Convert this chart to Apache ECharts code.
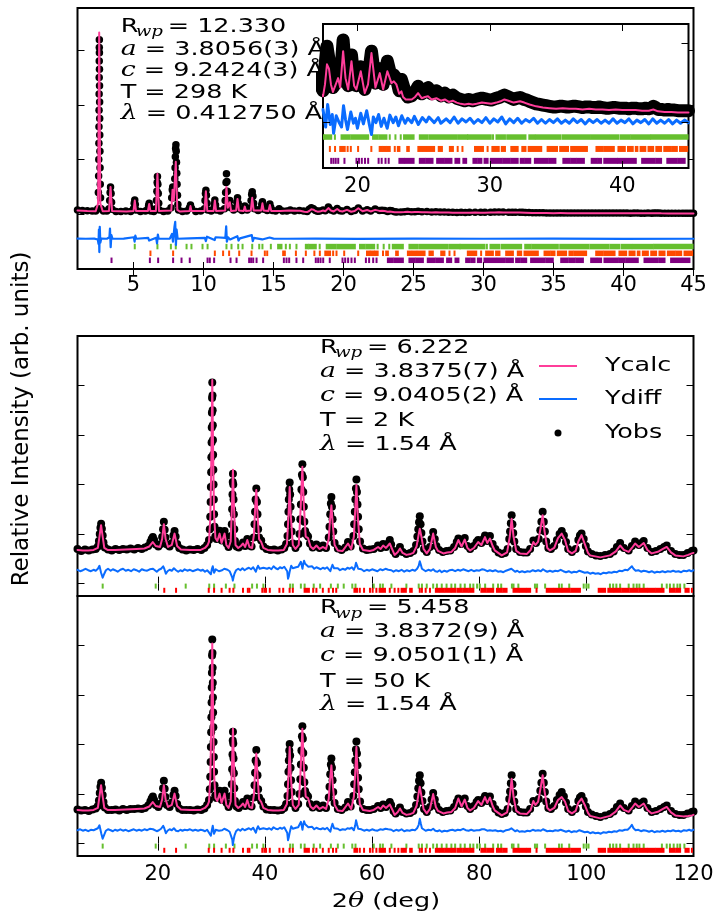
<!DOCTYPE html>
<html>
<head>
<meta charset="utf-8">
<script src="https://cdn.jsdelivr.net/npm/echarts@6/dist/echarts.min.js"></script>
<style>
html,body{margin:0;padding:0;background:#fff}
#chart{width:718px;height:915px}
</style>
</head>
<body>
<div id="chart"></div>
<script>
// ---------- tick positions ----------
const topXTicks = [5, 10, 15, 20, 25, 30, 35, 40, 45];
const topYTicks = [1, 2, 3, 4];
const insetXTicks = [20, 30, 40];
const insetYTicks = [1.0, 1.125];
const labXTicks = [20, 40, 60, 80, 100, 120];
const labYTicks = [0, 1, 2, 3, 4, 5];

// ---------- synchrotron pattern, 298 K ----------
const obs298K = [
  [1.0,1.08],[1.35,1.07],[1.7,1.065],[2.05,1.06],[2.3,1.06],
  [2.45,1.10],[2.49,1.40],[2.51,1.70],[2.52,2.00],[2.53,2.30],[2.535,2.60],[2.54,2.90],[2.545,3.20],[2.55,3.50],[2.553,3.80],[2.556,4.05],[2.56,4.19],
  [2.565,3.95],[2.57,3.65],[2.575,3.35],[2.58,3.05],[2.585,2.75],[2.59,2.45],[2.60,2.15],[2.61,1.85],[2.625,1.55],[2.645,1.30],[2.68,1.10],
  [2.85,1.06],[3.1,1.06],
  [3.25,1.10],[3.30,1.25],[3.33,1.40],[3.36,1.50],[3.40,1.38],[3.43,1.22],[3.47,1.09],
  [3.75,1.05],[4.1,1.05],[4.45,1.06],[4.8,1.05],
  [5.0,1.10],[5.05,1.20],[5.09,1.26],[5.13,1.18],[5.18,1.08],
  [5.5,1.05],[5.85,1.06],
  [6.02,1.09],[6.08,1.16],[6.12,1.20],[6.17,1.12],[6.23,1.06],
  [6.45,1.05],
  [6.60,1.10],[6.64,1.25],[6.67,1.42],[6.69,1.58],[6.71,1.69],[6.74,1.55],[6.77,1.38],[6.80,1.20],[6.85,1.08],
  [7.15,1.05],[7.45,1.06],
  [7.68,1.12],[7.73,1.30],[7.77,1.45],[7.80,1.50],[7.84,1.40],[7.88,1.30],[7.92,1.45],[7.95,1.65],[7.97,1.85],[7.99,2.05],[8.01,2.20],[8.03,2.27],
  [8.05,2.15],[8.07,1.95],[8.09,1.75],[8.11,1.55],[8.14,1.35],[8.17,1.18],[8.22,1.08],
  [8.5,1.05],[8.8,1.06],
  [9.0,1.12],[9.07,1.17],[9.14,1.11],
  [9.45,1.05],[9.8,1.06],
  [10.07,1.10],[10.11,1.25],[10.14,1.38],[10.17,1.44],[10.21,1.35],[10.25,1.20],[10.30,1.08],
  [10.55,1.06],[10.72,1.10],[10.77,1.19],[10.81,1.26],[10.86,1.17],[10.92,1.08],
  [11.2,1.06],
  [11.50,1.10],[11.55,1.25],[11.58,1.40],[11.61,1.58],[11.64,1.74],[11.67,1.60],[11.70,1.42],[11.74,1.25],[11.80,1.18],[11.88,1.25],[11.95,1.12],
  [12.15,1.08],[12.33,1.12],[12.38,1.22],[12.43,1.30],[12.48,1.20],[12.54,1.10],
  [12.75,1.07],[12.95,1.15],[13.12,1.08],
  [13.35,1.12],[13.40,1.25],[13.44,1.36],[13.48,1.41],[13.53,1.33],[13.58,1.20],[13.65,1.10],
  [13.9,1.07],
  [14.10,1.10],[14.16,1.18],[14.21,1.23],[14.27,1.16],[14.35,1.09],
  [14.55,1.07],[14.68,1.13],[14.74,1.19],[14.80,1.13],[14.92,1.07],
  [15.15,1.06],[15.40,1.10],[15.65,1.06],
  [15.95,1.06],[16.2,1.08],[16.5,1.06],[16.85,1.07],[17.15,1.06],
  [17.40,1.050],[17.55,1.090],[17.70,1.121],[17.85,1.100],[18.00,1.070],[18.15,1.055],[18.30,1.060],[18.54,1.080],[18.70,1.065],
  [18.92,1.131],[19.10,1.080],[19.30,1.058],[19.55,1.107],[19.75,1.065],[19.92,1.058],[20.25,1.088],[20.55,1.052],[20.80,1.070],
  [21.06,1.113],[21.36,1.062],[21.69,1.085],[21.94,1.060],[22.26,1.097],[22.57,1.070],[22.75,1.075],[22.94,1.070],[23.15,1.050],
  [23.32,1.068],[23.45,1.066],[23.65,1.045],[23.80,1.040],[24.10,1.042],[24.35,1.048],[24.58,1.057],[24.85,1.045],[25.10,1.048],
  [25.33,1.055],[25.60,1.045],[25.96,1.050],[26.30,1.042],[26.60,1.046],[26.90,1.040],[27.20,1.043],[27.50,1.038],[27.80,1.036],
  [28.10,1.034],[28.40,1.036],[28.70,1.034],[29.00,1.036],[29.40,1.038],[29.80,1.036],[30.10,1.035],[30.50,1.038],[30.80,1.040],
  [31.10,1.043],[31.40,1.040],[31.80,1.036],[32.05,1.038],[32.28,1.039],[32.60,1.036],[32.80,1.035],[33.00,1.033],[33.25,1.031],
  [33.50,1.029],[33.75,1.028],[34.00,1.027],[34.25,1.026],[34.50,1.025],[34.75,1.024],[35.00,1.024],[35.25,1.025],[35.50,1.025],
  [35.75,1.024],[36.00,1.024],[36.25,1.025],[36.50,1.025],[36.75,1.024],[37.00,1.023],[37.25,1.024],[37.50,1.024],[37.75,1.023],
  [38.00,1.023],[38.25,1.024],[38.50,1.023],[38.75,1.022],[39.00,1.022],[39.25,1.023],[39.50,1.023],[39.75,1.022],[40.00,1.022],
  [40.25,1.022],[40.50,1.021],[40.75,1.022],[41.00,1.022],[41.25,1.021],[41.50,1.021],[41.75,1.022],[42.00,1.021],[42.17,1.022],
  [42.34,1.025],[42.52,1.023],[42.70,1.020],[42.95,1.020],[43.20,1.019],[43.45,1.020],[43.70,1.019],[43.95,1.019],[44.20,1.018],
  [44.40,1.018],[44.60,1.018],[44.80,1.018],[45.00,1.018]
];
const calc298K = [
  [1.0,1.07],[1.7,1.06],[2.3,1.055],[2.47,1.2],[2.55,4.32],[2.63,1.2],[2.8,1.055],[3.25,1.06],[3.36,1.50],[3.47,1.06],
  [4.5,1.05],[5.0,1.06],[5.09,1.25],[5.18,1.06],[6.03,1.06],[6.12,1.19],[6.21,1.06],[6.6,1.06],[6.71,1.74],[6.82,1.06],
  [7.70,1.07],[7.79,1.45],[7.88,1.25],[8.02,1.96],[8.13,1.08],[8.3,1.05],[9.0,1.06],[9.07,1.15],[9.14,1.06],
  [10.07,1.06],[10.17,1.42],[10.27,1.06],[10.72,1.06],[10.81,1.25],[10.90,1.06],[11.55,1.07],[11.64,1.50],[11.74,1.12],
  [11.88,1.22],[11.97,1.06],[12.33,1.07],[12.43,1.28],[12.53,1.07],[12.87,1.06],[12.95,1.14],[13.03,1.06],[13.38,1.07],
  [13.48,1.30],[13.58,1.07],[14.12,1.07],[14.21,1.20],[14.30,1.07],[14.64,1.06],[14.74,1.17],[14.84,1.06],[15.3,1.06],
  [15.40,1.09],[15.5,1.06],[16.1,1.07],[16.9,1.065],[17.2,1.045],
  [17.40,1.041],[17.55,1.060],[17.70,1.092],[17.85,1.085],[18.00,1.060],[18.15,1.048],[18.30,1.049],[18.54,1.070],[18.70,1.055],
  [18.92,1.113],[19.10,1.070],[19.30,1.052],[19.55,1.097],[19.75,1.058],[19.92,1.052],[20.25,1.081],[20.55,1.046],[20.80,1.060],
  [21.06,1.110],[21.36,1.055],[21.69,1.078],[21.94,1.052],[22.26,1.081],[22.57,1.062],[22.75,1.065],[22.94,1.060],[23.15,1.045],
  [23.32,1.049],[23.45,1.040],[23.65,1.036],[23.80,1.035],[24.10,1.036],[24.35,1.040],[24.58,1.046],[24.85,1.038],[25.10,1.040],
  [25.33,1.041],[25.60,1.036],[25.96,1.038],[26.30,1.034],[26.60,1.036],[26.90,1.032],[27.20,1.034],[27.50,1.031],[27.80,1.029],
  [28.10,1.028],[28.40,1.029],[28.70,1.028],[29.00,1.029],[29.40,1.031],[29.80,1.030],[30.10,1.029],[30.50,1.031],[30.80,1.033],
  [31.10,1.036],[31.40,1.034],[31.80,1.031],[32.28,1.033],[32.60,1.031],[33.00,1.028],[33.50,1.025],[34.00,1.023],[34.50,1.022],
  [35.00,1.021],[35.50,1.022],[36.00,1.021],[36.50,1.021],[37.00,1.020],[37.50,1.021],[38.00,1.020],[38.50,1.020],[39.00,1.019],
  [39.50,1.020],[40.00,1.019],[40.50,1.019],[41.00,1.019],[41.50,1.018],[42.00,1.018],[42.34,1.020],[42.70,1.017],[43.20,1.016],
  [43.70,1.016],[44.20,1.015],[44.60,1.015],[45.00,1.015]
];
const diff298K = [
  [1.0,0.556],[1.6,0.553],[2.2,0.555],[2.45,0.54],[2.5,0.46],[2.53,0.72],[2.56,0.31],[2.59,0.77],[2.63,0.48],[2.7,0.556],
  [3.1,0.553],[3.28,0.58],[3.32,0.74],[3.37,0.40],[3.42,0.62],[3.5,0.553],[4.3,0.555],[5.02,0.58],[5.08,0.50],[5.13,0.61],
  [5.2,0.553],[6.05,0.57],[6.12,0.52],[6.2,0.553],[6.62,0.57],[6.68,0.47],[6.74,0.63],[6.8,0.553],[7.6,0.556],[7.75,0.64],
  [7.82,0.50],[7.93,0.78],[7.98,0.86],[8.03,0.44],[8.08,0.72],[8.15,0.553],[9.0,0.56],[9.1,0.54],[10.1,0.57],[10.17,0.51],
  [10.25,0.59],[10.8,0.53],[10.86,0.58],[11.56,0.57],[11.62,0.78],[11.67,0.50],[11.75,0.58],[11.9,0.54],[12.42,0.60],
  [12.5,0.52],[12.6,0.56],[13.45,0.62],[13.52,0.51],[13.6,0.57],[14.2,0.54],[14.3,0.57],[14.72,0.575],[14.8,0.54],
  [15.0,0.555],[16.0,0.553],[18.0,0.556],[21.0,0.552],[25,0.554],[30,0.553],[35,0.554],[40,0.552],[45,0.553]
];
// difference curve as plotted in the zoomed inset
const diff298KInset = [
  [17.4,1.020],[17.6,0.992],[17.75,1.028],[17.95,0.996],[18.1,1.012],[18.2,0.982],[18.4,1.010],[18.6,1.000],[18.8,0.992],
  [18.95,1.026],[19.1,1.004],[19.25,0.988],[19.5,1.016],[19.7,0.998],[19.85,1.006],[20.0,0.990],[20.25,1.014],[20.45,0.997],
  [20.7,1.018],[20.9,0.996],[21.06,0.980],[21.2,1.008],[21.4,0.999],[21.6,1.012],[21.8,0.993],[22.0,1.006],[22.25,0.990],
  [22.45,1.011],[22.7,0.999],[22.9,1.008],[23.1,0.994],[23.35,1.010],[23.6,0.998],[23.8,1.006],[24.1,0.999],[24.3,1.009],
  [24.6,0.996],[24.9,1.007],[25.2,1.000],[25.4,1.008],[25.8,0.999],[26.1,1.007],[26.3,0.998],[26.7,1.005],[27.0,0.999],
  [27.3,1.008],[27.6,0.998],[27.9,1.005],[28.2,1.000],[28.5,1.006],[28.8,0.998],[29.1,1.004],[29.4,0.999],[29.7,1.007],
  [30.0,0.998],[30.3,1.005],[30.6,1.000],[30.9,1.008],[31.2,0.997],[31.5,1.005],[31.8,0.999],[32.1,1.006],[32.4,0.998],
  [32.7,1.004],[33.0,1.000],[33.3,1.006],[33.6,0.998],[33.9,1.004],[34.2,0.998],[34.5,1.004],[34.8,0.999],[35.1,1.005],
  [35.4,0.998],[35.7,1.003],[36.0,0.998],[36.3,1.005],[36.6,0.999],[36.9,1.004],[37.2,0.997],[37.5,1.004],[37.8,0.999],
  [38.1,1.004],[38.4,0.998],[38.7,1.003],[39.0,0.998],[39.3,1.005],[39.6,0.998],[39.9,1.003],[40.2,0.999],[40.5,1.005],
  [40.8,0.997],[41.1,1.003],[41.4,0.999],[41.7,1.004],[42.0,0.997],[42.3,1.005],[42.6,0.998],[42.9,1.003],[43.2,0.998],
  [43.5,1.004],[43.8,0.997],[44.1,1.003],[44.4,0.998],[44.7,1.003],[45.0,0.999]
];
// reflection markers (single positions or [from, to] runs of closely spaced reflections)
const hklGreen298K = [5.09,6.71,7.67,8.02,8.79,9.14,9.93,10.29,11.64,12.0,12.48,12.79,13.48,13.98,14.21,14.81,[15.33,15.57],15.88,16.17,16.64,
  [17.31,17.45],[17.55,18.02],18.3,[18.8,19.42],[19.55,20.81],[21.18,21.52],[21.65,22.19],22.44,22.87,23.27,[23.52,24.24],[24.71,25.31],
  [25.46,27.45],[27.6,28.29],[28.36,30.07],30.24,[30.5,31.14],[31.31,32.69],[32.98,33.36],[33.48,35.31],[35.48,37.5],[37.64,38.93],
  [39.07,39.71],[39.88,40.55],[40.67,42.1],[42.21,44.95]];
const hklOrange298K = [6.21,7.83,10.81,11.4,11.83,12.55,13.43,14.38,14.55,15.69,15.81,16.6,17.31,17.92,18.31,[18.7,19.04],19.26,19.5,20.05,
  21.05,[21.68,21.85],[21.95,22.15],[22.25,22.44],22.82,[23.05,23.17],[23.76,23.88],[24.6,24.83],[24.95,25.19],[25.31,25.79],[26.14,26.38],
  [26.98,27.21],27.57,27.93,[28.88,29.48],29.83,[30.19,30.67],[30.9,31.14],[31.62,32.1],[32.45,32.69],[32.93,33.88],[34.36,34.71],
  [34.83,35.07],[35.31,35.9],[36.14,36.38],[36.5,37.33],[38.05,38.52],[38.64,39.36],[39.71,40.19],[40.43,40.79],[41.02,41.14],
  [41.38,41.74],[41.98,42.33],[42.57,42.93],[43.17,43.64],[43.76,44.12],[44.36,44.9]];
const hklPurple298K = [3.43,6.17,6.76,7.83,8.43,9.02,10.29,10.45,10.76,11.93,12.36,13.26,13.4,13.55,13.79,14.26,15.74,15.93,16.12,16.64,
  17.12,18.02,18.19,18.36,18.55,19.02,19.93,20.12,20.33,20.57,20.81,21.6,21.83,22.12,22.36,[23.17,23.52],[23.64,24.24],[24.71,25.07],
  [25.19,25.67],[26.02,26.5],[26.62,27.1],[27.4,27.69],[28.0,28.21],[28.76,29.0],[29.12,29.36],[29.6,29.83],[30.07,30.9],[31.02,31.5],
  [31.62,32.1],[32.33,32.57],[32.69,33.05],[33.4,34.36],[34.48,34.95],[35.55,36.02],[36.14,36.5],[36.62,37.1],[37.69,38.05],
  [38.17,38.4],[38.64,39.6],[39.71,40.07],[40.19,41.02],[41.5,42.45],[42.57,42.93],[43.4,44.12],[44.24,44.71]];

// ---------- laboratory pattern, 2 K ----------
const obs2K = [
  [5.0,0.70],[5.7,0.66],[6.4,0.69],[7.1,0.67],[7.8,0.69],[8.4,0.70],
  [8.8,0.75],[9.0,0.86],[9.15,1.00],[9.28,1.13],[9.41,1.21],[9.55,1.11],[9.7,0.97],[9.85,0.83],[10.1,0.73],
  [10.7,0.69],[11.4,0.67],[12.1,0.70],[12.8,0.68],[13.5,0.70],[14.2,0.69],[14.9,0.71],[15.6,0.69],[16.3,0.72],[17.0,0.70],[17.6,0.73],[18.2,0.76],[18.6,0.84],
  [18.85,0.90],[19.07,0.94],[19.3,0.88],[19.6,0.79],[20.1,0.75],
  [20.55,0.80],[20.8,0.94],[20.97,1.10],[21.12,1.25],[21.27,1.09],[21.42,0.93],[21.7,0.79],[22.2,0.75],
  [22.65,0.82],[22.9,0.97],[23.12,1.06],[23.32,0.95],[23.6,0.80],[24.0,0.72],
  [24.6,0.69],[25.3,0.67],[26.0,0.69],[26.7,0.68],[27.4,0.70],[28.1,0.68],[28.7,0.72],[29.2,0.78],
  [29.55,0.88],[29.7,1.10],[29.78,1.35],[29.85,1.65],[29.9,1.95],[29.95,2.25],[29.99,2.55],[30.03,2.85],[30.06,3.15],[30.09,3.45],[30.12,3.75],[30.16,4.06],
  [30.2,3.80],[30.23,3.50],[30.26,3.20],[30.29,2.90],[30.32,2.60],[30.36,2.30],[30.4,2.00],[30.45,1.70],[30.5,1.40],[30.58,1.15],[30.72,0.95],
  [30.95,0.90],[31.2,0.93],[31.38,1.02],[31.53,1.07],[31.7,0.96],[31.95,0.87],[32.2,0.91],[32.35,1.00],[32.46,1.06],[32.62,0.95],[32.85,0.81],[33.2,0.74],[33.5,0.80],
  [33.7,0.96],[33.8,1.20],[33.87,1.50],[33.93,1.80],[33.98,2.05],[34.02,2.22],[34.08,2.00],[34.13,1.70],[34.19,1.40],[34.27,1.10],[34.4,0.86],
  [34.7,0.75],[35.1,0.73],[35.5,0.77],[35.9,0.83],[36.3,0.76],[36.7,0.90],[37.1,0.77],[37.5,0.75],
  [37.9,0.93],[38.05,1.20],[38.15,1.45],[38.25,1.70],[38.38,1.92],[38.5,1.65],[38.6,1.40],[38.72,1.10],[38.9,0.93],
  [39.3,0.87],[39.7,0.75],[40.3,0.70],[41.0,0.68],[41.7,0.69],[42.4,0.67],[43.1,0.69],[43.6,0.72],[43.95,0.80],
  [44.2,0.96],[44.3,1.20],[44.38,1.45],[44.45,1.70],[44.53,1.90],[44.61,2.04],[44.7,1.80],[44.78,1.55],[44.87,1.30],[44.97,1.05],[45.2,0.81],
  [45.7,0.72],[46.2,0.80],
  [46.45,1.00],[46.6,1.30],[46.7,1.60],[46.8,1.90],[46.9,2.20],[46.98,2.41],[47.07,2.15],[47.15,1.85],[47.25,1.55],[47.35,1.25],[47.5,1.06],
  [47.75,0.99],[48.04,0.95],[48.4,0.81],[48.9,0.73],[49.6,0.79],[50.2,0.72],[50.84,0.77],[51.4,0.72],
  [51.9,0.93],[52.05,1.15],[52.18,1.40],[52.3,1.62],[52.4,1.75],[52.5,1.55],[52.62,1.30],[52.75,1.05],[53.0,0.82],
  [53.6,0.71],[54.3,0.68],[55.0,0.73],[55.5,0.84],[56.0,0.75],
  [56.5,0.96],[56.65,1.20],[56.77,1.45],[56.88,1.70],[56.98,1.92],[57.07,2.10],[57.17,1.85],[57.27,1.60],[57.38,1.35],[57.5,1.10],[57.75,0.85],
  [58.3,0.71],[59.0,0.68],[59.6,0.69],[60.3,0.70],[61.1,0.77],[61.6,0.72],[62.06,0.80],[62.6,0.74],[63.1,0.82],[63.3,0.88],[63.55,0.79],
  [64.0,0.66],[64.4,0.60],[64.8,0.66],[65.2,0.74],[65.7,0.64],[66.4,0.60],[67.1,0.62],[67.7,0.66],
  [68.2,0.78],[68.45,0.95],[68.62,1.10],[68.76,1.24],[68.9,1.36],[69.05,1.20],[69.2,1.02],[69.4,0.85],[69.7,0.70],
  [70.2,0.64],[70.8,0.74],[71.1,0.90],[71.4,1.04],[71.7,0.90],[72.0,0.76],[72.5,0.68],[73.2,0.64],[73.9,0.66],[74.6,0.67],[75.3,0.74],
  [75.8,0.84],[76.1,0.91],[76.6,0.80],[77.0,0.86],[77.3,0.92],[77.8,0.76],[78.3,0.70],[79.0,0.76],[79.5,0.84],[79.8,0.88],[80.4,0.82],
  [80.8,0.90],[81.07,0.97],[81.5,0.86],[82.0,0.96],[82.5,0.80],[83.0,0.70],[83.6,0.63],[84.2,0.60],[84.8,0.62],[85.3,0.70],
  [85.6,0.90],[85.75,1.05],[85.9,1.22],[86.05,1.38],[86.2,1.20],[86.35,1.02],[86.55,0.85],[86.9,0.70],
  [87.6,0.64],[88.3,0.63],[88.9,0.63],[89.5,0.70],[90.1,0.87],[90.6,0.82],[91.1,0.90],[91.4,1.08],[91.6,1.25],[91.84,1.45],[92.05,1.25],
  [92.25,1.05],[92.5,0.85],[92.9,0.72],[93.4,0.70],[94.0,0.76],[94.5,0.88],[95.0,1.00],[95.4,1.06],[95.8,0.97],[96.2,0.84],[96.6,0.70],
  [97.3,0.64],[98.0,0.70],[98.5,0.88],[98.8,0.97],[99.1,1.01],[99.5,0.90],[99.9,0.76],[100.3,0.65],[101.0,0.60],[101.8,0.57],[102.6,0.56],
  [103.5,0.58],[104.4,0.60],[105.1,0.65],[105.7,0.74],[106.3,0.82],[107.0,0.72],[107.9,0.67],[108.5,0.76],[109.1,0.85],[109.8,0.78],
  [110.3,0.82],[110.7,0.86],[111.4,0.72],[112.2,0.64],[113.0,0.66],[113.8,0.70],[114.5,0.74],[115.0,0.77],[115.8,0.66],[116.6,0.60],
  [117.4,0.58],[118.1,0.58],[118.9,0.62],[119.7,0.66],[120.0,0.67]
];
const calc2K = [
  [5,0.68],[6,0.67],[7,0.67],[8,0.68],[8.8,0.72],[9.1,0.95],[9.4,1.18],[9.7,0.95],[10.0,0.72],[10.6,0.68],[12,0.68],[14,0.69],[16,0.70],
  [17.5,0.71],[18.4,0.75],[19.05,0.84],[19.6,0.76],[20.4,0.74],[20.8,0.90],[21.12,1.20],[21.45,0.90],[21.9,0.74],[22.6,0.78],[23.12,1.01],
  [23.6,0.76],[24.3,0.69],[26,0.68],[28,0.68],[28.8,0.72],[29.3,0.78],[29.55,0.85],[29.8,1.35],[29.95,2.25],[30.06,3.15],[30.16,4.11],
  [30.26,3.2],[30.36,2.3],[30.5,1.4],[30.75,0.92],[31.1,0.86],[31.53,1.01],[31.9,0.82],[32.1,0.82],[32.46,1.01],[32.8,0.78],[33.2,0.72],
  [33.6,0.85],[33.85,1.6],[34.02,2.30],[34.2,1.6],[34.5,0.78],[35.0,0.72],[35.5,0.76],[35.9,0.81],[36.3,0.74],[36.7,0.88],[37.1,0.74],
  [37.6,0.72],[37.95,1.0],[38.2,1.6],[38.38,1.89],[38.6,1.4],[38.9,0.90],[39.3,0.84],[39.7,0.72],[40.5,0.68],[41.5,0.67],[42.5,0.67],
  [43.5,0.68],[44.1,0.80],[44.4,1.4],[44.61,1.95],[44.8,1.4],[45.2,0.78],[45.7,0.70],[46.3,0.78],[46.65,1.5],[46.98,2.36],[47.25,1.6],
  [47.6,0.95],[48.04,0.92],[48.5,0.75],[49.0,0.70],[49.6,0.77],[50.2,0.70],[50.84,0.74],[51.4,0.70],[51.9,0.90],[52.15,1.30],[52.4,1.58],
  [52.65,1.20],[53.0,0.78],[53.6,0.67],[54.5,0.66],[55.5,0.81],[56.1,0.70],[56.6,0.95],[56.85,1.50],[57.07,1.99],[57.3,1.40],[57.7,0.80],
  [58.3,0.68],[59.56,0.66],[60.3,0.68],[61.12,0.74],[61.6,0.70],[62.06,0.77],[62.6,0.72],[63.3,0.81],[63.8,0.68],[64.2,0.58],[64.8,0.64],
  [65.2,0.71],[65.7,0.62],[66.4,0.58],[67.2,0.60],[67.7,0.62],[68.3,0.75],[68.7,1.00],[68.9,1.11],[69.2,0.95],[69.6,0.70],[70.2,0.61],
  [70.8,0.70],[71.4,1.01],[71.9,0.74],[72.3,0.66],[73.3,0.61],[74.0,0.63],[74.8,0.64],[75.5,0.72],[76.1,0.88],[76.7,0.75],[77.3,0.89],
  [77.8,0.72],[78.3,0.67],[79.0,0.72],[79.8,0.84],[80.4,0.78],[81.07,0.94],[81.5,0.82],[82.0,0.91],[82.5,0.76],[82.9,0.67],[84.2,0.57],
  [85.2,0.63],[85.7,0.95],[86.05,1.31],[86.4,0.95],[86.9,0.66],[87.6,0.61],[88.9,0.60],[89.6,0.68],[90.1,0.84],[90.5,0.78],[91.0,0.85],
  [91.5,1.15],[91.84,1.38],[92.2,1.05],[92.7,0.72],[93.2,0.67],[94.0,0.72],[94.7,0.92],[95.4,1.01],[96.0,0.88],[96.6,0.66],[97.3,0.61],
  [98.0,0.66],[98.5,0.85],[99.1,0.98],[99.7,0.80],[100.3,0.62],[100.7,0.57],[102.6,0.53],[104.4,0.57],[105.5,0.65],[106.3,0.77],[107.0,0.68],
  [107.9,0.64],[108.5,0.72],[109.1,0.81],[109.8,0.74],[110.7,0.82],[111.4,0.68],[112.2,0.61],[113.5,0.65],[114.3,0.70],[115.0,0.74],
  [115.8,0.63],[116.6,0.57],[118.1,0.55],[119.0,0.58],[119.7,0.61],[120,0.62]
];
const diff2K = [
  [5.0,.28],[5.5,.25],[6.0,.27],[6.5,.30],[7.0,.27],[7.5,.25],[8.0,.28],[8.4,.26],[8.8,.30],[9.1,.36],[9.4,.22],[9.7,.12],[10.0,.20],
  [10.3,.27],[10.7,.30],[11.2,.26],[11.6,.29],[12.0,.27],[12.5,.24],[13.0,.28],[13.5,.30],[14.0,.26],[14.5,.28],[15.0,.25],[15.5,.29],
  [16.0,.27],[16.5,.24],[17.0,.29],[17.5,.27],[18.0,.26],[18.5,.29],[18.8,.33],[19.1,.30],[19.4,.26],[19.8,.24],[20.2,.28],[20.6,.30],
  [21.0,.35],[21.2,.30],[21.5,.20],[21.8,.25],[22.2,.28],[22.6,.26],[23.0,.31],[23.4,.27],[23.8,.24],[24.2,.27],[24.6,.25],[25.0,.29],
  [25.5,.26],[26.0,.28],[26.5,.25],[27.0,.27],[27.5,.29],[28.0,.26],[28.4,.28],[28.8,.24],[29.2,.27],[29.5,.31],[29.9,.19],[30.1,.30],
  [30.25,.35],[30.5,.22],[30.8,.29],[31.1,.32],[31.4,.25],[31.7,.29],[32.0,.27],[32.4,.30],[32.7,.26],[33.0,.28],[33.4,.25],[33.7,.22],
  [33.9,.12],[34.0,.06],[34.15,.14],[34.3,.20],[34.6,.27],[35.0,.30],[35.4,.27],[35.8,.31],[36.2,.27],[36.6,.30],[37.0,.32],[37.4,.29],
  [37.8,.33],[38.1,.30],[38.3,.24],[38.5,.31],[38.7,.36],[39.0,.30],[39.3,.27],[39.7,.32],[40.0,.34],[40.4,.30],[40.8,.32],[41.2,.29],
  [41.6,.35],[42.0,.31],[42.4,.29],[42.8,.33],[43.2,.31],[43.6,.34],[43.9,.36],[44.15,.25],[44.3,.10],[44.45,.15],[44.6,.24],[44.9,.36],
  [45.2,.31],[45.5,.28],[45.8,.33],[46.2,.34],[46.5,.38],[46.7,.44],[46.9,.35],[47.0,.30],[47.15,.40],[47.3,.46],[47.5,.40],[47.8,.38],
  [48.1,.34],[48.4,.32],[48.8,.35],[49.2,.30],[49.6,.33],[50.0,.31],[50.4,.29],[50.8,.32],[51.2,.30],[51.6,.33],[51.9,.30],[52.2,.25],
  [52.4,.32],[52.6,.38],[52.9,.31],[53.2,.29],[53.6,.31],[54.0,.27],[54.5,.30],[55.0,.28],[55.4,.32],[55.8,.30],[56.2,.33],[56.6,.28],
  [56.85,.35],[57.0,.42],[57.2,.36],[57.4,.30],[57.7,.27],[58.0,.29],[58.5,.25],[59.0,.28],[59.5,.26],[60.0,.29],[60.5,.27],[61.0,.25],
  [61.5,.29],[62.0,.27],[62.5,.30],[63.0,.28],[63.3,.32],[63.6,.27],[64.0,.24],[64.5,.27],[65.0,.25],[65.5,.28],[66.0,.24],[66.5,.27],
  [67.0,.25],[67.5,.28],[68.0,.26],[68.4,.30],[68.7,.36],[68.9,.45],[69.1,.38],[69.3,.30],[69.6,.27],[70.0,.25],[70.5,.28],[71.0,.26],
  [71.4,.29],[71.8,.25],[72.2,.24],[72.6,.27],[73.0,.23],[73.5,.26],[74.0,.24],[74.5,.27],[75.0,.28],[75.5,.25],[76.0,.28],[76.5,.26],
  [77.0,.29],[77.5,.27],[78.0,.25],[78.5,.28],[79.0,.25],[79.5,.27],[80.0,.26],[80.5,.29],[81.0,.28],[81.5,.25],[82.0,.27],[82.5,.25],
  [83.0,.27],[83.5,.24],[84.0,.25],[84.5,.23],[85.0,.26],[85.5,.28],[86.0,.30],[86.3,.27],[86.7,.24],[87.1,.26],[87.5,.23],[88.0,.25],
  [88.5,.23],[89.0,.25],[89.5,.24],[90.0,.27],[90.5,.25],[91.0,.27],[91.5,.25],[91.9,.29],[92.3,.26],[92.7,.24],[93.2,.26],[93.7,.24],
  [94.2,.26],[94.7,.25],[95.2,.28],[95.7,.25],[96.2,.23],[96.7,.25],[97.2,.22],[97.7,.24],[98.2,.23],[98.7,.26],[99.2,.24],[99.7,.22],
  [100.2,.23],[100.7,.20],[101.2,.22],[101.7,.20],[102.2,.21],[102.7,.19],[103.2,.22],[103.7,.21],[104.2,.23],[104.7,.22],[105.2,.24],
  [105.7,.23],[106.2,.26],[106.7,.25],[107.2,.28],[107.7,.27],[108.1,.31],[108.5,.35],[108.8,.30],[109.2,.26],[109.7,.27],[110.2,.24],
  [110.7,.26],[111.2,.25],[111.7,.23],[112.2,.25],[112.7,.22],[113.2,.24],[113.7,.23],[114.2,.25],[114.7,.23],[115.2,.25],[115.7,.24],
  [116.2,.26],[116.7,.24],[117.2,.25],[117.7,.23],[118.2,.26],[118.7,.25],[119.2,.27],[119.6,.25],[120.0,.27]
];

// ---------- laboratory pattern, 50 K ----------
const obs50K = [
  [5.0,0.69],[5.7,0.67],[6.4,0.68],[7.1,0.66],[7.8,0.69],[8.4,0.71],
  [8.8,0.76],[9.0,0.87],[9.15,1.02],[9.28,1.15],[9.41,1.23],[9.55,1.13],[9.7,0.98],[9.85,0.84],[10.1,0.73],
  [10.7,0.68],[11.4,0.68],[12.1,0.69],[12.8,0.67],[13.5,0.70],[14.2,0.68],[14.9,0.70],[15.6,0.70],[16.3,0.71],[17.0,0.70],[17.6,0.72],[18.2,0.77],[18.6,0.85],
  [18.85,0.91],[19.07,0.95],[19.3,0.88],[19.6,0.78],[20.1,0.74],
  [20.55,0.81],[20.8,0.95],[20.97,1.12],[21.12,1.27],[21.27,1.11],[21.42,0.94],[21.7,0.78],[22.2,0.74],
  [22.65,0.83],[22.9,0.98],[23.12,1.07],[23.32,0.96],[23.6,0.80],[24.0,0.71],
  [24.6,0.68],[25.3,0.68],[26.0,0.68],[26.7,0.67],[27.4,0.69],[28.1,0.68],[28.7,0.71],[29.2,0.78],
  [29.55,0.88],[29.7,1.10],[29.78,1.35],[29.85,1.65],[29.9,1.95],[29.95,2.25],[29.99,2.55],[30.03,2.85],[30.06,3.15],[30.09,3.45],[30.12,3.80],[30.16,4.12],
  [30.2,3.85],[30.23,3.55],[30.26,3.25],[30.29,2.95],[30.32,2.65],[30.36,2.35],[30.4,2.05],[30.45,1.75],[30.5,1.45],[30.58,1.18],[30.72,0.97],
  [30.95,0.92],[31.2,0.94],[31.38,1.03],[31.53,1.07],[31.7,0.97],[31.95,0.88],[32.2,0.92],[32.35,1.01],[32.46,1.07],[32.62,0.96],[32.85,0.82],[33.2,0.74],[33.5,0.80],
  [33.7,0.96],[33.8,1.20],[33.87,1.50],[33.93,1.80],[33.98,2.08],[34.02,2.26],[34.08,2.02],[34.13,1.72],[34.19,1.42],[34.27,1.12],[34.4,0.86],
  [34.7,0.75],[35.1,0.72],[35.5,0.77],[35.9,0.84],[36.3,0.76],[36.7,0.91],[37.1,0.77],[37.5,0.75],
  [37.9,0.93],[38.05,1.18],[38.15,1.43],[38.25,1.68],[38.38,1.89],[38.5,1.63],[38.6,1.38],[38.72,1.10],[38.9,0.93],
  [39.3,0.86],[39.7,0.75],[40.3,0.69],[41.0,0.68],[41.7,0.68],[42.4,0.67],[43.1,0.68],[43.6,0.72],[43.95,0.80],
  [44.2,0.96],[44.3,1.20],[44.38,1.45],[44.45,1.68],[44.53,1.88],[44.61,2.01],[44.7,1.78],[44.78,1.53],[44.87,1.28],[44.97,1.04],[45.2,0.81],
  [45.7,0.72],[46.2,0.80],
  [46.45,1.00],[46.6,1.30],[46.7,1.60],[46.8,1.88],[46.9,2.17],[46.98,2.37],[47.07,2.12],[47.15,1.83],[47.25,1.53],[47.35,1.24],[47.5,1.06],
  [47.75,0.99],[48.04,0.95],[48.4,0.80],[48.9,0.73],[49.6,0.79],[50.2,0.72],[50.84,0.77],[51.4,0.72],
  [51.9,0.93],[52.05,1.15],[52.18,1.40],[52.3,1.60],[52.4,1.72],[52.5,1.53],[52.62,1.28],[52.75,1.04],[53.0,0.82],
  [53.6,0.70],[54.3,0.68],[55.0,0.73],[55.5,0.84],[56.0,0.75],
  [56.5,0.96],[56.65,1.20],[56.77,1.44],[56.88,1.68],[56.98,1.90],[57.07,2.06],[57.17,1.82],[57.27,1.58],[57.38,1.33],[57.5,1.10],[57.75,0.85],
  [58.3,0.70],[59.0,0.68],[59.6,0.68],[60.3,0.70],[61.1,0.76],[61.6,0.72],[62.06,0.79],[62.6,0.74],[63.1,0.80],[63.3,0.84],[63.55,0.78],
  [64.0,0.66],[64.4,0.61],[64.8,0.66],[65.2,0.73],[65.7,0.64],[66.4,0.61],[67.1,0.62],[67.7,0.66],
  [68.2,0.78],[68.45,0.95],[68.62,1.12],[68.76,1.27],[68.9,1.38],[69.05,1.22],[69.2,1.03],[69.4,0.86],[69.7,0.70],
  [70.2,0.64],[70.8,0.74],[71.1,0.89],[71.4,1.02],[71.7,0.89],[72.0,0.76],[72.5,0.68],[73.2,0.64],[73.9,0.66],[74.6,0.67],[75.3,0.74],
  [75.8,0.84],[76.1,0.91],[76.6,0.80],[77.0,0.86],[77.3,0.91],[77.8,0.76],[78.3,0.70],[79.0,0.76],[79.5,0.84],[79.8,0.88],[80.4,0.82],
  [80.8,0.90],[81.07,0.96],[81.5,0.86],[82.0,0.95],[82.5,0.80],[83.0,0.70],[83.6,0.63],[84.2,0.60],[84.8,0.62],[85.3,0.70],
  [85.6,0.90],[85.75,1.05],[85.9,1.22],[86.05,1.38],[86.2,1.20],[86.35,1.02],[86.55,0.85],[86.9,0.70],
  [87.6,0.64],[88.3,0.63],[88.9,0.63],[89.5,0.70],[90.1,0.86],[90.6,0.82],[91.1,0.90],[91.4,1.07],[91.6,1.23],[91.84,1.41],[92.05,1.23],
  [92.25,1.04],[92.5,0.85],[92.9,0.72],[93.4,0.70],[94.0,0.76],[94.5,0.88],[95.0,0.98],[95.4,1.04],[95.8,0.95],[96.2,0.83],[96.6,0.70],
  [97.3,0.64],[98.0,0.70],[98.5,0.86],[98.8,0.93],[99.1,0.96],[99.5,0.87],[99.9,0.75],[100.3,0.64],[101.0,0.59],[101.8,0.56],[102.6,0.54],
  [103.5,0.57],[104.4,0.60],[105.1,0.65],[105.7,0.74],[106.3,0.81],[107.0,0.72],[107.9,0.67],[108.5,0.76],[109.1,0.85],[109.8,0.78],
  [110.3,0.82],[110.7,0.85],[111.4,0.72],[112.2,0.64],[113.0,0.66],[113.8,0.70],[114.5,0.74],[115.0,0.77],[115.8,0.66],[116.6,0.60],
  [117.4,0.58],[118.1,0.58],[118.9,0.61],[119.7,0.64],[120.0,0.65]
];
const calc50K = [
  [5,0.68],[6,0.67],[7,0.67],[8,0.68],[8.8,0.72],[9.1,0.95],[9.4,1.18],[9.7,0.95],[10.0,0.72],[10.6,0.68],[12,0.68],[14,0.69],[16,0.70],
  [17.5,0.71],[18.4,0.75],[19.05,0.84],[19.6,0.76],[20.4,0.74],[20.8,0.89],[21.12,1.18],[21.45,0.89],[21.9,0.74],[22.6,0.78],[23.12,1.01],
  [23.6,0.76],[24.3,0.69],[26,0.68],[28,0.68],[28.8,0.72],[29.3,0.78],[29.55,0.85],[29.8,1.35],[29.95,2.25],[30.06,3.15],[30.16,4.04],
  [30.26,3.2],[30.36,2.3],[30.5,1.4],[30.75,0.92],[31.1,0.86],[31.53,1.01],[31.9,0.82],[32.1,0.82],[32.46,1.01],[32.8,0.78],[33.2,0.72],
  [33.6,0.85],[33.85,1.6],[34.02,2.32],[34.2,1.6],[34.5,0.78],[35.0,0.72],[35.5,0.76],[35.9,0.81],[36.3,0.74],[36.7,0.88],[37.1,0.74],
  [37.6,0.72],[37.95,1.0],[38.2,1.55],[38.38,1.82],[38.6,1.38],[38.9,0.90],[39.3,0.84],[39.7,0.72],[40.5,0.68],[41.5,0.67],[42.5,0.67],
  [43.5,0.68],[44.1,0.80],[44.4,1.4],[44.61,1.95],[44.8,1.4],[45.2,0.78],[45.7,0.70],[46.3,0.78],[46.65,1.48],[46.98,2.32],[47.25,1.58],
  [47.6,0.95],[48.04,0.92],[48.5,0.75],[49.0,0.70],[49.6,0.77],[50.2,0.70],[50.84,0.74],[51.4,0.70],[51.9,0.90],[52.15,1.30],[52.4,1.58],
  [52.65,1.20],[53.0,0.78],[53.6,0.67],[54.5,0.66],[55.5,0.81],[56.1,0.70],[56.6,0.95],[56.85,1.45],[57.07,1.95],[57.3,1.38],[57.7,0.80],
  [58.3,0.68],[59.56,0.66],[60.3,0.68],[61.12,0.74],[61.6,0.70],[62.06,0.77],[62.6,0.72],[63.3,0.79],[63.8,0.68],[64.2,0.58],[64.8,0.64],
  [65.2,0.71],[65.7,0.62],[66.4,0.58],[67.2,0.60],[67.7,0.62],[68.3,0.76],[68.7,1.03],[68.9,1.15],[69.2,0.97],[69.6,0.70],[70.2,0.61],
  [70.8,0.70],[71.4,1.00],[71.9,0.74],[72.3,0.66],[73.3,0.61],[74.0,0.63],[74.8,0.64],[75.5,0.72],[76.1,0.91],[76.7,0.75],[77.3,0.89],
  [77.8,0.72],[78.3,0.67],[79.0,0.72],[79.8,0.86],[80.4,0.78],[81.07,0.94],[81.5,0.82],[82.0,0.93],[82.5,0.76],[82.9,0.67],[84.2,0.57],
  [85.2,0.63],[85.7,0.95],[86.05,1.31],[86.4,0.95],[86.9,0.66],[87.6,0.61],[88.9,0.60],[89.6,0.68],[90.1,0.86],[90.5,0.78],[91.0,0.85],
  [91.5,1.15],[91.84,1.38],[92.2,1.05],[92.7,0.72],[93.2,0.67],[94.0,0.72],[94.7,0.88],[95.4,0.94],[96.0,0.85],[96.6,0.66],[97.3,0.61],
  [98.0,0.66],[98.5,0.83],[99.1,0.91],[99.7,0.78],[100.3,0.62],[100.7,0.56],[102.6,0.51],[104.4,0.56],[105.5,0.65],[106.3,0.77],[107.0,0.68],
  [107.9,0.64],[108.5,0.72],[109.1,0.81],[109.8,0.74],[110.7,0.81],[111.4,0.68],[112.2,0.61],[113.5,0.65],[114.3,0.70],[115.0,0.74],
  [115.8,0.63],[116.6,0.57],[118.1,0.55],[119.0,0.56],[119.7,0.57],[120,0.58]
];
const diff50K = [
  [5.0,.27],[5.5,.29],[6.0,.26],[6.5,.28],[7.0,.25],[7.5,.28],[8.0,.27],[8.4,.29],[8.8,.31],[9.1,.37],[9.45,.20],[9.7,.10],[10.0,.18],
  [10.3,.26],[10.7,.29],[11.2,.27],[11.6,.25],[12.0,.28],[12.5,.26],[13.0,.29],[13.5,.26],[14.0,.28],[14.5,.25],[15.0,.27],[15.5,.29],
  [16.0,.26],[16.5,.28],[17.0,.26],[17.5,.29],[18.0,.27],[18.5,.30],[18.8,.34],[19.1,.29],[19.4,.27],[19.8,.25],[20.2,.27],[20.6,.30],
  [21.0,.36],[21.2,.31],[21.5,.21],[21.8,.26],[22.2,.29],[22.6,.27],[23.0,.31],[23.4,.26],[23.8,.25],[24.2,.28],[24.6,.26],[25.0,.28],
  [25.5,.27],[26.0,.29],[26.5,.26],[27.0,.28],[27.5,.26],[28.0,.28],[28.4,.27],[28.8,.25],[29.2,.28],[29.5,.31],[29.9,.16],[30.1,.28],
  [30.25,.36],[30.5,.20],[30.8,.28],[31.1,.32],[31.4,.26],[31.7,.30],[32.0,.27],[32.4,.30],[32.7,.26],[33.0,.27],[33.4,.24],[33.7,.20],
  [33.9,.08],[34.0,-.03],[34.15,.08],[34.3,.16],[34.6,.25],[35.0,.29],[35.4,.26],[35.8,.30],[36.2,.27],[36.6,.29],[37.0,.31],[37.4,.28],
  [37.8,.32],[38.1,.29],[38.3,.22],[38.5,.30],[38.7,.35],[39.0,.29],[39.3,.26],[39.7,.31],[40.0,.32],[40.4,.29],[40.8,.31],[41.2,.28],
  [41.6,.33],[42.0,.30],[42.4,.29],[42.8,.32],[43.2,.30],[43.6,.33],[43.9,.34],[44.15,.22],[44.3,.07],[44.45,.13],[44.6,.22],[44.9,.35],
  [45.2,.30],[45.5,.28],[45.8,.32],[46.2,.33],[46.5,.37],[46.7,.44],[46.9,.34],[47.0,.28],[47.15,.39],[47.3,.45],[47.5,.39],[47.8,.36],
  [48.1,.33],[48.4,.31],[48.8,.34],[49.2,.29],[49.6,.32],[50.0,.30],[50.4,.29],[50.8,.31],[51.2,.29],[51.6,.32],[51.9,.30],[52.2,.24],
  [52.4,.33],[52.6,.40],[52.9,.31],[53.2,.28],[53.6,.30],[54.0,.27],[54.5,.29],[55.0,.28],[55.4,.31],[55.8,.30],[56.2,.32],[56.6,.27],
  [56.85,.37],[57.0,.47],[57.2,.38],[57.4,.30],[57.7,.27],[58.0,.29],[58.5,.26],[59.0,.28],[59.5,.26],[60.0,.29],[60.5,.27],[61.0,.26],
  [61.5,.29],[62.0,.28],[62.5,.30],[63.0,.29],[63.3,.33],[63.6,.28],[64.0,.25],[64.5,.28],[65.0,.26],[65.5,.29],[66.0,.25],[66.5,.27],
  [67.0,.26],[67.5,.28],[68.0,.27],[68.4,.31],[68.7,.38],[68.9,.50],[69.1,.40],[69.3,.31],[69.6,.28],[70.0,.26],[70.5,.28],[71.0,.27],
  [71.4,.30],[71.8,.26],[72.2,.25],[72.6,.27],[73.0,.24],[73.5,.26],[74.0,.25],[74.5,.27],[75.0,.28],[75.5,.26],[76.0,.28],[76.5,.27],
  [77.0,.30],[77.5,.27],[78.0,.26],[78.5,.28],[79.0,.26],[79.5,.27],[80.0,.27],[80.5,.29],[81.0,.29],[81.5,.26],[82.0,.27],[82.5,.26],
  [83.0,.27],[83.5,.25],[84.0,.26],[84.5,.24],[85.0,.27],[85.5,.28],[86.0,.31],[86.3,.28],[86.7,.25],[87.1,.27],[87.5,.24],[88.0,.25],
  [88.5,.24],[89.0,.26],[89.5,.25],[90.0,.28],[90.5,.26],[91.0,.27],[91.5,.26],[91.9,.29],[92.3,.27],[92.7,.25],[93.2,.26],[93.7,.25],
  [94.2,.27],[94.7,.26],[95.2,.28],[95.7,.26],[96.2,.24],[96.7,.26],[97.2,.23],[97.7,.25],[98.2,.24],[98.7,.27],[99.2,.25],[99.7,.23],
  [100.2,.24],[100.7,.21],[101.2,.23],[101.7,.21],[102.2,.22],[102.7,.20],[103.2,.23],[103.7,.22],[104.2,.24],[104.7,.23],[105.2,.25],
  [105.7,.24],[106.2,.27],[106.7,.26],[107.2,.28],[107.7,.28],[108.1,.32],[108.5,.38],[108.8,.31],[109.2,.27],[109.7,.28],[110.2,.25],
  [110.7,.27],[111.2,.26],[111.7,.24],[112.2,.26],[112.7,.23],[113.2,.25],[113.7,.24],[114.2,.26],[114.7,.24],[115.2,.26],[115.7,.25],
  [116.2,.27],[116.7,.25],[117.2,.26],[117.7,.24],[118.2,.27],[118.7,.26],[119.2,.28],[119.6,.26],[120.0,.28]
];
const hklGreenLab = [9.7,19.6,25.2,29.6,30.5,32.7,34.3,37.6,38.5,39.7,44.7,45.2,46.7,47.4,49.1,50.3,52.3,53.6,54.7,56.3,56.9,60.3,61.5,
  62.0,63.6,66.4,68.7,69.3,70.2,71.4,72.1,73.0,73.9,74.8,75.5,76.5,77.3,78.3,78.9,79.6,80.1,81.1,82.6,83.5,84.1,86.1,86.4,87.3,90.4,
  90.8,92.3,94.9,95.4,96.8,99.5,100.0,100.4,104.4,105.0,105.6,106.3,107.9,108.8,109.4,109.9,110.7,114.1,115.0,115.6,116.3,117.0,117.5,118.3];
const hklRedLab = [21.2,23.4,29.5,30.5,31.9,33.4,34.1,35.9,36.8,37.1,39.5,39.9,40.2,40.9,42.7,43.4,44.6,45.2,[47.4,48.2],49.0,49.6,50.8,
  51.9,52.7,53.3,[56.7,57.2],57.7,58.5,59.6,60.1,60.8,[61.4,62.4],63.3,64.2,64.9,[65.5,66.3],[67.1,67.4],68.9,69.3,70.0,70.8,[71.9,72.5],
  [72.8,73.4],[73.7,74.6],[74.9,75.6],[76.0,76.7],[77.0,77.8],[78.1,78.9],[80.4,81.2],[81.5,82.6],[83.3,84.2],[84.5,85.1],[86.4,87.3],
  [87.6,88.6],[88.9,89.5],90.7,[92.6,93.8],[94.1,95.3],[95.6,96.9],[97.2,98.8],[102.3,103.5],[104.1,105.0],[105.3,106.4],[106.7,107.9],
  [108.2,109.6],[109.9,111.2],[111.5,112.8],[113.1,114.4],[115.6,116.5],[116.8,117.5],[118.5,119.1],119.7];

// ---------- styling ----------
const FONT = 'DejaVu Sans';
const SERIF = 'DejaVu Serif';
const C_CALC = '#ff3d9a', C_DIFF = '#0a6cff';
const C_GREEN = '#66bf2e', C_ORANGE = '#ff4a00', C_PURPLE = '#800080', C_RED = '#ff0000';

function runs(list, level) {
  return list.map(v => Array.isArray(v) ? [v[0], v[1], level] : [v, v, level]);
}
// one row of reflection markers, drawn as short vertical bars
function markerRow(list, level, color, h, axis, z) {
  return {
    type: 'custom', name: 'hkl', xAxisIndex: axis, yAxisIndex: axis, z: z, silent: true,
    data: runs(list, level), encode: { x: [0, 1], y: 2 },
    renderItem: function (params, api) {
      const a = api.coord([api.value(0), api.value(2)]);
      const b = api.coord([api.value(1), api.value(2)]);
      const cs = params.coordSys;
      const x0 = Math.max(a[0] - 1, cs.x), x1 = Math.min(b[0] + 1, cs.x + cs.width);
      if (x1 <= x0) return null;
      return { type: 'rect', shape: { x: x0, y: a[1] - h / 2, width: x1 - x0, height: h }, style: { fill: color } };
    }
  };
}
function obsSeries(data, axis, size, z) {
  return { type: 'scatter', name: 'Yobs', xAxisIndex: axis, yAxisIndex: axis, data: data, symbol: 'circle',
    symbolSize: size, itemStyle: { color: '#000', opacity: 1 }, z: z, silent: true };
}
function lineSeries(name, data, axis, color, width, z) {
  return { type: 'line', name: name, xAxisIndex: axis, yAxisIndex: axis, data: data, symbol: 'none', showSymbol: false,
    lineStyle: { color: color, width: width, cap: 'round', join: 'round' }, z: z, silent: true };
}
function axisPair(kind, grid, min, max, ticks, showLabel, margin, z) {
  const base = {
    type: 'value', gridIndex: grid, min: min, max: max, z: z,
    axisLine: { show: false }, splitLine: { show: false },
    axisTick: { show: true, inside: true, length: 7, customValues: ticks, lineStyle: { color: '#000', width: 1 } }
  };
  const first = Object.assign({}, base, {
    position: kind === 'x' ? 'bottom' : 'left',
    axisLabel: { show: showLabel, customValues: ticks, margin: margin, fontSize: 21, fontFamily: FONT, color: '#000' }
  });
  const second = Object.assign({}, base, { position: kind === 'x' ? 'top' : 'right', axisLabel: { show: false } });
  return [first, second];
}

const xAxes = [].concat(
  axisPair('x', 0, 1, 45, topXTicks, true, 6, 1),
  axisPair('x', 1, 17.4, 45, insetXTicks, true, 8, 8),
  axisPair('x', 2, 5, 120, labXTicks, false, 8, 1),
  axisPair('x', 3, 5, 120, labXTicks, true, 8, 1)
);
const yAxes = [].concat(
  axisPair('y', 0, 0, 4.77, topYTicks, false, 8, 1),
  axisPair('y', 1, 0.9266, 1.1564, insetYTicks, false, 8, 8),
  axisPair('y', 2, -0.25, 5, labYTicks, false, 8, 1),
  axisPair('y', 3, -0.25, 5, labYTicks, false, 8, 1)
);

const frame = { show: true, borderColor: '#000', borderWidth: 2, backgroundColor: 'rgba(0,0,0,0)' };
const grids = [
  Object.assign({ left: 77.5, top: 8, width: 616, height: 261, z: 0 }, frame),
  Object.assign({}, frame, { left: 323, top: 24, width: 365.5, height: 144, z: 5, backgroundColor: '#fff' }),
  Object.assign({ left: 77.5, top: 336, width: 616, height: 260, z: 0 }, frame),
  Object.assign({ left: 77.5, top: 596, width: 616, height: 260, z: 0 }, frame)
];

const series = [
  // synchrotron, main panel (axis index 0)
  obsSeries(obs298K, 0, 7.5, 2),
  lineSeries('Ycalc', calc298K, 0, C_CALC, 2, 3),
  lineSeries('Ydiff', diff298K, 0, C_DIFF, 2.2, 3),
  markerRow(hklGreen298K, 0.41, C_GREEN, 5.5, 0, 3),
  markerRow(hklOrange298K, 0.287, C_ORANGE, 5.5, 0, 3),
  markerRow(hklPurple298K, 0.159, C_PURPLE, 5.5, 0, 3),
  // synchrotron, zoomed inset (axis index 2): the dense observed points merge into a band
  lineSeries('Yobs', obs298K, 2, '#000', 13, 6),
  lineSeries('Ycalc', calc298K, 2, C_CALC, 2, 7),
  lineSeries('Ydiff', diff298KInset, 2, C_DIFF, 3, 7),
  markerRow(hklGreen298K, 0.976, C_GREEN, 5.5, 2, 7),
  markerRow(hklOrange298K, 0.957, C_ORANGE, 6, 2, 7),
  markerRow(hklPurple298K, 0.938, C_PURPLE, 6, 2, 7),
  // 2 K (axis index 4)
  obsSeries(obs2K, 4, 8, 2),
  lineSeries('Ycalc', calc2K, 4, C_CALC, 2, 3),
  lineSeries('Ydiff', diff2K, 4, C_DIFF, 2, 3),
  markerRow(hklGreenLab, -0.05, C_GREEN, 5, 4, 3),
  markerRow(hklRedLab, -0.135, C_RED, 5, 4, 3),
  // 50 K (axis index 6)
  obsSeries(obs50K, 6, 8, 2),
  lineSeries('Ycalc', calc50K, 6, C_CALC, 2, 3),
  lineSeries('Ydiff', diff50K, 6, C_DIFF, 2, 3),
  markerRow(hklGreenLab, -0.05, C_GREEN, 5, 6, 3),
  markerRow(hklRedLab, -0.135, C_RED, 5, 6, 3)
];

// ---------- text ----------
const SX = 1.3;        // horizontal stretch of the lettering
const TXT = 19.6;
function txt(x, y, text, extra) {
  return Object.assign({
    type: 'text', x: x, y: y, scaleX: SX, z: 100, silent: true,
    style: Object.assign({ text: text, fontSize: TXT, fontFamily: FONT, fill: '#000', align: 'left', verticalAlign: 'middle',
      rich: { i: { fontFamily: SERIF, fontStyle: 'italic', fontSize: TXT + 1 } } }, extra || {})
  });
}
function refinementBlock(x, ys, rwp, a, c, temp, lambda) {
  return [
    txt(x, ys[0], 'R'),
    txt(x + 15, ys[0] + 6, 'wp', { fontFamily: SERIF, fontStyle: 'italic', fontSize: 14 }),
    txt(x + 47, ys[0], '= ' + rwp),
    txt(x, ys[1], '{i|a} = ' + a + ' Å'),
    txt(x, ys[2], '{i|c} = ' + c + ' Å'),
    txt(x, ys[3], 'T = ' + temp + ' K'),
    txt(x, ys[4], '{i|λ} = ' + lambda + ' Å')
  ];
}

const graphics = [].concat(
  refinementBlock(120.7, [26.7, 49.7, 70.5, 92.5, 114], '12.330', '3.8056(3)', '9.2424(3)', '298', '0.412750'),
  refinementBlock(320, [347.5, 371.7, 395.5, 421, 445], '6.222', '3.8375(7)', '9.0405(2)', '2', '1.54'),
  refinementBlock(320, [608, 632, 656, 682, 705], '5.458', '3.8372(9)', '9.0501(1)', '50', '1.54'),
  [
    { type: 'line', z: 100, silent: true, shape: { x1: 539, y1: 366, x2: 577, y2: 366 }, style: { stroke: C_CALC, lineWidth: 2 } },
    { type: 'line', z: 100, silent: true, shape: { x1: 539, y1: 399, x2: 577, y2: 399 }, style: { stroke: C_DIFF, lineWidth: 2 } },
    { type: 'circle', z: 100, silent: true, shape: { cx: 558, cy: 433, r: 3.5 }, style: { fill: '#000' } },
    txt(605, 366, 'Ycalc'),
    txt(605, 399, 'Ydiff'),
    txt(605, 433, 'Yobs'),
    txt(386, 902, '2{i|θ} (deg)', { align: 'center' }),
    { type: 'text', x: 22, y: 419, rotation: Math.PI / 2, z: 100, silent: true,
      style: { text: 'Relative Intensity (arb. units)', fontSize: 23, fontFamily: FONT, fill: '#000', align: 'center', verticalAlign: 'middle' } }
  ]
);

const chart = echarts.init(document.getElementById('chart'), null, { renderer: 'canvas' });
chart.setOption({
  animation: false,
  backgroundColor: '#fff',
  grid: grids,
  xAxis: xAxes,
  yAxis: yAxes,
  series: series,
  graphic: graphics
});
</script>
</body>
</html>
